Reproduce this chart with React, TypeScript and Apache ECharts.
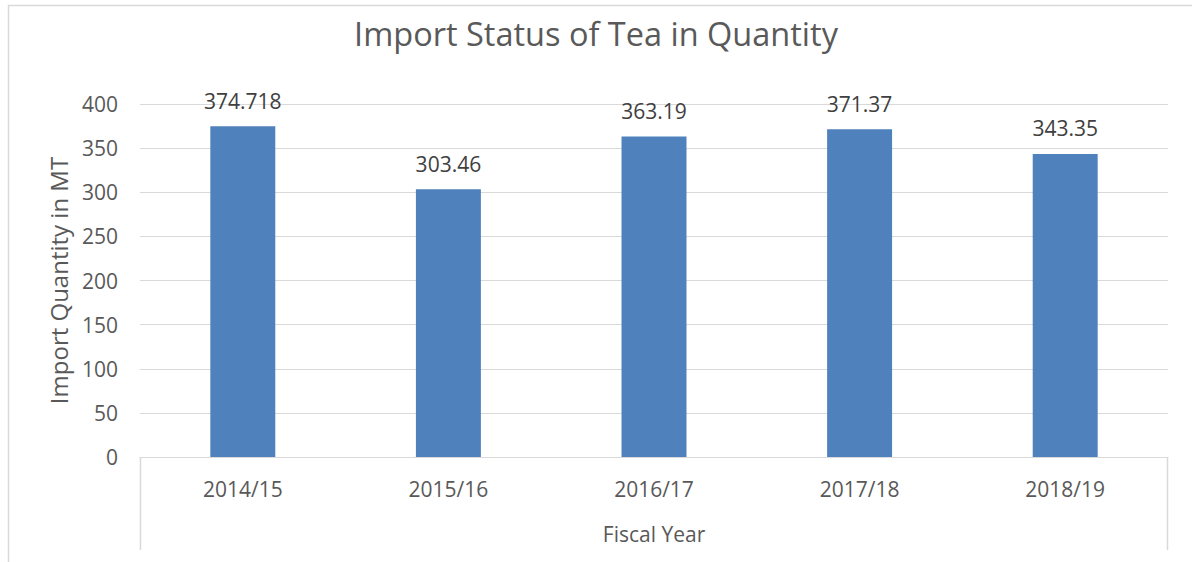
import React, { useEffect, useRef } from "react";
import * as echarts from "echarts";

const categories = ["2014/15", "2015/16", "2016/17", "2017/18", "2018/19"];
const values = [374.718, 303.46, 363.19, 371.37, 343.35];
const titleText = "Import Status of Tea in Quantity";
const yName = "Import Quantity in MT";
const xName = "Fiscal Year";

const FONT = "'Open Sans', sans-serif";
const TXT = "#595959";
const GRID = "#d9d9d9";

export default function App() {
  const ref = useRef<HTMLDivElement>(null);
  useEffect(() => {
    document.body.style.margin = "0";
    const chart = echarts.init(ref.current!, null, { renderer: "svg" });
    const left = 140, right = 24, top = 104, bottom = 105;
    chart.setOption({
      animation: false,
      backgroundColor: "#ffffff",
      textStyle: { fontFamily: FONT },
      title: {
        text: titleText,
        left: "center",
        top: 12,
        textStyle: { fontFamily: FONT, fontSize: 32.5, fontWeight: "normal", color: TXT },
      },
      grid: { left, right, top, bottom },
      xAxis: {
        type: "category",
        data: categories,
        name: xName,
        nameLocation: "middle",
        nameGap: 66,
        nameTextStyle: { fontFamily: FONT, fontSize: 21, color: TXT },
        axisLine: { show: true, lineStyle: { color: GRID, width: 1 } },
        axisTick: { show: false },
        axisLabel: { fontFamily: FONT, fontSize: 21, color: TXT, margin: 21 },
      },
      yAxis: {
        type: "value",
        min: 0,
        max: 400,
        interval: 50,
        name: yName,
        nameLocation: "middle",
        nameGap: 70,
        nameTextStyle: { fontFamily: FONT, fontSize: 24, color: TXT },
        axisLine: { show: false },
        axisTick: { show: false },
        axisLabel: { fontFamily: FONT, fontSize: 21, color: TXT, margin: 22 },
        splitLine: { lineStyle: { color: GRID, width: 1 } },
      },
      graphic: [
        {
          type: "rect",
          shape: { x: 8.5, y: 5.5, width: 1300, height: 700 },
          style: { fill: "none", stroke: GRID, lineWidth: 1.5 },
          silent: true,
        },
        {
          type: "line",
          shape: { x1: left + 0.5, y1: 562 - bottom, x2: left + 0.5, y2: 550 },
          style: { stroke: GRID, lineWidth: 1.5 },
          silent: true,
        },
        {
          type: "line",
          shape: { x1: 1192 - right - 0.5, y1: 562 - bottom, x2: 1192 - right - 0.5, y2: 550 },
          style: { stroke: GRID, lineWidth: 1.5 },
          silent: true,
        },
      ],
      series: [
        {
          type: "bar",
          data: values,
          barWidth: "31.6%",
          itemStyle: { color: "#4F81BD" },
          label: {
            show: true,
            position: "top",
            distance: 15,
            fontFamily: FONT,
            fontSize: 21,
            color: "#404040",
          },
        },
      ],
    });
    return () => chart.dispose();
  }, []);
  return <div ref={ref} style={{ width: 1192, height: 562 }} />;
}
